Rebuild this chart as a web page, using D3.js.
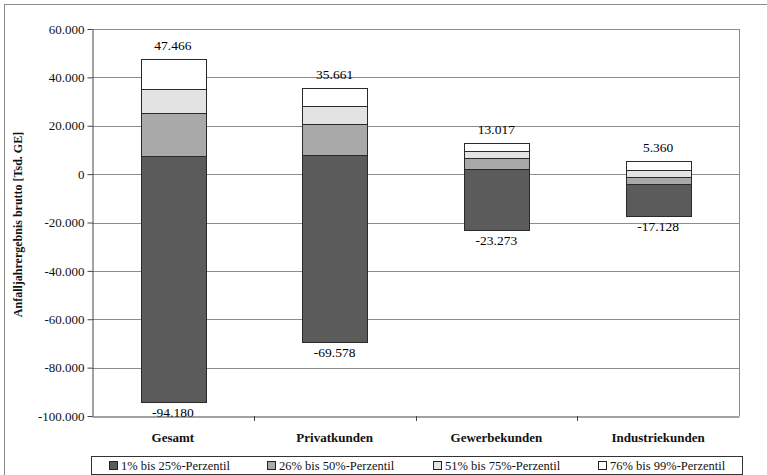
<!DOCTYPE html>
<html>
<head>
<meta charset="utf-8">
<script src="https://cdn.jsdelivr.net/npm/d3@7"></script>
<style>
  body { margin: 0; background: #fff; }
  svg { display: block; font-family: "Liberation Serif", "Times New Roman", serif; }
</style>
</head>
<body>
<div id="chart"></div>
<script>
// Data (Tsd. GE)
const categories = ["Gesamt", "Privatkunden", "Gewerbekunden", "Industriekunden"];
const minValues = [-94180, -69578, -23273, -17128];
const p25Values = [7500, 7900, 2100, -4100];
const p50Values = [25100, 20600, 6500, -1100];
const p75Values = [35200, 28100, 9500, 1700];
const maxValues = [47466, 35661, 13017, 5360];
const seriesNames = ["1% bis 25%-Perzentil", "26% bis 50%-Perzentil", "51% bis 75%-Perzentil", "76% bis 99%-Perzentil"];
const yTicks = [-100000, -80000, -60000, -40000, -20000, 0, 20000, 40000, 60000];

const colors = ["#5b5b5b", "#a9a9a9", "#e3e3e3", "#ffffff"];

const W = 767, H = 475;
const plot = { left: 92, right: 739, top: 29, bottom: 416 };

const de = d3.formatLocale({ decimal: ",", thousands: ".", grouping: [3], currency: ["", " €"], minus: "-" });
const fmt = de.format(",d");

const svg = d3.select("#chart").append("svg")
  .attr("width", W)
  .attr("height", H);

// outer frame
svg.append("rect")
  .attr("x", 4.5).attr("y", 4.5)
  .attr("width", 800).attr("height", 500)
  .attr("fill", "none")
  .attr("stroke", "#8a8a8a");

const x = d3.scaleBand()
  .domain(categories)
  .range([plot.left, plot.right])
  .padding(0);

const y = d3.scaleLinear()
  .domain([-100000, 60000])
  .range([plot.bottom, plot.top]);

const barW = x.bandwidth() * 0.4;

// gridlines
svg.append("g")
  .selectAll("line")
  .data(yTicks.filter(d => d > -100000))
  .join("line")
  .attr("x1", plot.left).attr("x2", plot.right)
  .attr("y1", d => Math.round(y(d)) + 0.5)
  .attr("y2", d => Math.round(y(d)) + 0.5)
  .attr("stroke", "#8c8c8c");

// right border of plot
svg.append("line")
  .attr("x1", plot.right + 0.5).attr("x2", plot.right + 0.5)
  .attr("y1", plot.top).attr("y2", plot.bottom)
  .attr("stroke", "#8c8c8c");

// segments
const segData = [];
categories.forEach((c, i) => {
  const edges = [minValues[i], p25Values[i], p50Values[i], p75Values[i], maxValues[i]];
  for (let k = 0; k < 4; k++) {
    segData.push({ cat: c, k, lo: edges[k], hi: edges[k + 1] });
  }
});

svg.append("g")
  .selectAll("rect")
  .data(segData)
  .join("rect")
  .attr("x", d => Math.round(x(d.cat) + (x.bandwidth() - barW) / 2) + 0.5)
  .attr("y", d => Math.round(y(d.hi)) + 0.5)
  .attr("width", Math.round(barW))
  .attr("height", d => Math.round(y(d.lo)) - Math.round(y(d.hi)))
  .attr("fill", d => colors[d.k])
  .attr("stroke", "#2a2a2a")
  .attr("stroke-width", 1);

// value labels
svg.append("g")
  .selectAll("text")
  .data(categories)
  .join("text")
  .attr("x", d => x(d) + x.bandwidth() / 2)
  .attr("y", (d, i) => y(maxValues[i]) - 9)
  .attr("text-anchor", "middle")
  .style("font-size", "13.5px")
  .text((d, i) => fmt(maxValues[i]));

svg.append("g")
  .selectAll("text")
  .data(categories)
  .join("text")
  .attr("x", d => x(d) + x.bandwidth() / 2)
  .attr("y", (d, i) => y(minValues[i]) + 15)
  .attr("text-anchor", "middle")
  .style("font-size", "13.5px")
  .text((d, i) => fmt(minValues[i]));

// y axis
const yAxis = svg.append("g")
  .attr("transform", `translate(${plot.left + 0.5},0)`)
  .call(d3.axisLeft(y).tickValues(yTicks).tickFormat(fmt).tickSize(5).tickSizeOuter(0));
yAxis.select(".domain").attr("stroke", "#444");
yAxis.selectAll(".tick line").attr("stroke", "#444");
yAxis.selectAll(".tick text")
  .attr("x", -8)
  .style("font-family", "\"Liberation Serif\", serif")
  .style("font-size", "13px")
  .attr("fill", "#111");

// x axis
const xAxis = svg.append("g")
  .attr("transform", `translate(0,${plot.bottom + 0.5})`)
  .call(d3.axisBottom(x).tickSize(0).tickSizeOuter(0));
xAxis.select(".domain").attr("stroke", "#444");
xAxis.selectAll(".tick text")
  .attr("y", 16)
  .style("font-family", "\"Liberation Serif\", serif")
  .style("font-size", "13px")
  .style("font-weight", "bold")
  .attr("fill", "#111");

// x ticks between categories
svg.append("g")
  .selectAll("line")
  .data(categories.slice(1))
  .join("line")
  .attr("x1", d => Math.round(x(d)) + 0.5)
  .attr("x2", d => Math.round(x(d)) + 0.5)
  .attr("y1", plot.bottom)
  .attr("y2", plot.bottom + 5)
  .attr("stroke", "#444");

// y title
svg.append("text")
  .attr("transform", `translate(22,${(plot.top + plot.bottom) / 2 + 2}) rotate(-90)`)
  .attr("text-anchor", "middle")
  .style("font-size", "12px")
  .style("font-weight", "bold")
  .attr("fill", "#111")
  .text("Anfalljahrergebnis brutto [Tsd. GE]");

// legend
const legend = svg.append("g");
legend.append("rect")
  .attr("x", 91.5).attr("y", 456.5)
  .attr("width", 651).attr("height", 18)
  .attr("fill", "#fff")
  .attr("stroke", "#333");

const legendX = [109, 267, 433, 598];
seriesNames.forEach((name, i) => {
  const g = legend.append("g").attr("transform", `translate(${legendX[i]},461)`);
  g.append("rect")
    .attr("x", 0.5).attr("y", 0.5)
    .attr("width", 8).attr("height", 8)
    .attr("fill", colors[i])
    .attr("stroke", "#222");
  g.append("text")
    .attr("x", 12)
    .attr("y", 9)
    .style("font-size", "12.5px")
    .attr("fill", "#111")
    .text(name);
});
</script>
</body>
</html>
